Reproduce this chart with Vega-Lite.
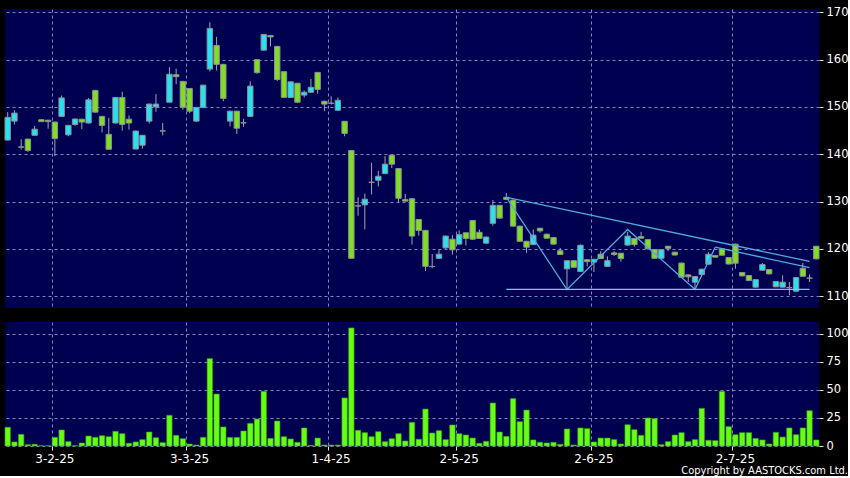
{
  "$schema": "https://vega.github.io/schema/vega-lite/v6.json",
  "background": "#000000",
  "padding": {"left": 4, "top": 6, "right": 0, "bottom": 0},
  "autosize": {"type": "pad"},
  "config": {
    "view": {"fill": "#000050", "stroke": null},
    "axis": {"labelFont": "DejaVu Sans", "labelColor": "#ffffff", "gridColor": "#8484c4", "gridDash": [3, 3], "gridWidth": 1, "gridOpacity": 1, "domain": false, "tickColor": "#e0e0e0", "title": null},
    "concat": {"spacing": 14}
  },
  "title": {"text": "Copyright by AASTOCKS.com Ltd.", "orient": "bottom", "anchor": "end", "color": "#ffffff", "font": "DejaVu Sans Condensed, DejaVu Sans", "fontSize": 11, "fontWeight": "normal", "offset": 1},
  "datasets": {
    "px": [
      {"d":"20-1-25","o":143.0,"h":148.9,"l":142.9,"c":147.8,"v":16.7},
      {"d":"21-1-25","o":147.0,"h":149.3,"l":146.3,"c":148.7,"v":3.6},
      {"d":"22-1-25","o":141.55,"h":143.2,"l":141.0,"c":141.5,"v":10.4},
      {"d":"23-1-25","o":143.2,"h":143.3,"l":140.5,"c":140.8,"v":1.2},
      {"d":"24-1-25","o":144.0,"h":146.0,"l":143.9,"c":145.3,"v":1.5},
      {"d":"27-1-25","o":147.3,"h":147.4,"l":146.8,"c":146.9,"v":0.3},
      {"d":"28-1-25","o":147.2,"h":147.3,"l":145.4,"c":146.9,"v":0.2},
      {"d":"3-2-25","o":146.8,"h":146.9,"l":139.6,"c":143.3,"v":7.7},
      {"d":"4-2-25","o":148.0,"h":152.4,"l":148.0,"c":151.9,"v":14.3},
      {"d":"5-2-25","o":144.1,"h":146.2,"l":143.8,"c":146.1,"v":3.9},
      {"d":"6-2-25","o":146.3,"h":147.5,"l":146.0,"c":147.45,"v":0.3},
      {"d":"7-2-25","o":147.4,"h":147.5,"l":145.3,"c":146.8,"v":2.7},
      {"d":"10-2-25","o":146.6,"h":151.9,"l":146.5,"c":151.5,"v":8.9},
      {"d":"11-2-25","o":153.5,"h":153.6,"l":148.8,"c":148.9,"v":7.7},
      {"d":"12-2-25","o":148.0,"h":148.1,"l":144.6,"c":146.1,"v":9.2},
      {"d":"13-2-25","o":144.2,"h":147.7,"l":141.0,"c":141.05,"v":8.3},
      {"d":"14-2-25","o":146.6,"h":152.1,"l":146.5,"c":152.0,"v":13.1},
      {"d":"17-2-25","o":152.0,"h":153.2,"l":145.0,"c":146.3,"v":11.0},
      {"d":"18-2-25","o":147.4,"h":148.2,"l":145.2,"c":146.6,"v":2.4},
      {"d":"19-2-25","o":141.1,"h":145.0,"l":141.0,"c":144.9,"v":3.6},
      {"d":"20-2-25","o":141.9,"h":144.1,"l":141.2,"c":144.0,"v":5.7},
      {"d":"21-2-25","o":147.0,"h":150.7,"l":146.5,"c":150.6,"v":12.5},
      {"d":"24-2-25","o":150.0,"h":152.7,"l":149.0,"c":150.6,"v":7.4},
      {"d":"25-2-25","o":144.95,"h":146.6,"l":144.0,"c":144.9,"v":3.0},
      {"d":"26-2-25","o":151.0,"h":158.4,"l":151.0,"c":156.9,"v":27.4},
      {"d":"27-2-25","o":156.8,"h":158.1,"l":154.8,"c":156.4,"v":9.5},
      {"d":"28-2-25","o":155.4,"h":155.5,"l":149.4,"c":149.9,"v":6.5},
      {"d":"3-3-25","o":153.9,"h":154.0,"l":148.7,"c":149.1,"v":1.8},
      {"d":"4-3-25","o":147.0,"h":150.0,"l":146.8,"c":149.9,"v":0.9},
      {"d":"5-3-25","o":149.9,"h":154.7,"l":149.8,"c":154.6,"v":7.7},
      {"d":"6-3-25","o":158.0,"h":167.9,"l":157.5,"c":166.6,"v":78.0},
      {"d":"7-3-25","o":163.0,"h":164.8,"l":157.7,"c":159.0,"v":46.4},
      {"d":"10-3-25","o":159.0,"h":159.1,"l":151.2,"c":151.8,"v":17.0},
      {"d":"11-3-25","o":147.0,"h":149.2,"l":145.9,"c":149.1,"v":7.7},
      {"d":"12-3-25","o":149.1,"h":149.2,"l":144.3,"c":145.5,"v":7.7},
      {"d":"13-3-25","o":146.65,"h":147.5,"l":145.8,"c":146.6,"v":13.4},
      {"d":"14-3-25","o":148.0,"h":155.4,"l":147.9,"c":154.4,"v":20.2},
      {"d":"17-3-25","o":160.0,"h":160.1,"l":157.0,"c":157.25,"v":24.1},
      {"d":"18-3-25","o":162.0,"h":165.4,"l":161.9,"c":165.3,"v":48.8},
      {"d":"19-3-25","o":165.1,"h":165.2,"l":162.8,"c":164.8,"v":6.8},
      {"d":"20-3-25","o":162.8,"h":162.9,"l":155.5,"c":155.8,"v":22.3},
      {"d":"21-3-25","o":157.45,"h":157.5,"l":151.9,"c":152.0,"v":8.3},
      {"d":"24-3-25","o":152.0,"h":155.4,"l":151.9,"c":155.3,"v":6.25},
      {"d":"25-3-25","o":155.0,"h":155.1,"l":150.9,"c":151.0,"v":3.3},
      {"d":"26-3-25","o":152.5,"h":153.5,"l":152.0,"c":153.1,"v":16.1},
      {"d":"27-3-25","o":153.1,"h":155.9,"l":153.0,"c":154.15,"v":0.6},
      {"d":"28-3-25","o":157.3,"h":157.4,"l":152.8,"c":153.7,"v":7.1},
      {"d":"31-3-25","o":151.2,"h":151.3,"l":149.1,"c":150.6,"v":0.9},
      {"d":"1-4-25","o":150.8,"h":152.25,"l":150.5,"c":150.75,"v":0.9},
      {"d":"2-4-25","o":149.3,"h":152.0,"l":149.2,"c":151.4,"v":0.9},
      {"d":"3-4-25","o":146.97,"h":147.0,"l":143.8,"c":144.4,"v":42.9},
      {"d":"7-4-25","o":140.8,"h":140.8,"l":118.0,"c":118.0,"v":105.4},
      {"d":"8-4-25","o":129.1,"h":130.9,"l":127.0,"c":129.05,"v":14.0},
      {"d":"9-4-25","o":129.3,"h":131.7,"l":124.1,"c":130.5,"v":11.9},
      {"d":"10-4-25","o":134.1,"h":138.2,"l":131.5,"c":134.05,"v":8.3},
      {"d":"11-4-25","o":134.5,"h":136.5,"l":133.2,"c":135.35,"v":12.8},
      {"d":"14-4-25","o":135.9,"h":139.6,"l":135.8,"c":137.9,"v":3.9},
      {"d":"15-4-25","o":139.8,"h":139.9,"l":137.1,"c":137.9,"v":6.5},
      {"d":"16-4-25","o":136.97,"h":137.0,"l":129.7,"c":130.7,"v":11.0},
      {"d":"17-4-25","o":130.4,"h":131.6,"l":130.0,"c":130.1,"v":4.5},
      {"d":"22-4-25","o":130.6,"h":130.7,"l":120.9,"c":122.7,"v":21.1},
      {"d":"23-4-25","o":126.2,"h":126.3,"l":122.8,"c":123.9,"v":6.0},
      {"d":"24-4-25","o":123.9,"h":124.0,"l":115.3,"c":116.3,"v":33.0},
      {"d":"25-4-25","o":116.3,"h":118.9,"l":115.9,"c":116.25,"v":11.6},
      {"d":"28-4-25","o":118.0,"h":119.85,"l":117.9,"c":118.87,"v":13.7},
      {"d":"29-4-25","o":120.2,"h":122.8,"l":120.0,"c":122.7,"v":5.7},
      {"d":"30-4-25","o":122.04,"h":122.9,"l":118.8,"c":119.8,"v":18.75},
      {"d":"2-5-25","o":121.0,"h":123.9,"l":120.9,"c":123.0,"v":11.0},
      {"d":"6-5-25","o":123.4,"h":123.5,"l":120.7,"c":122.2,"v":9.8},
      {"d":"7-5-25","o":126.0,"h":126.1,"l":121.9,"c":122.04,"v":7.1},
      {"d":"8-5-25","o":123.5,"h":124.1,"l":122.1,"c":122.2,"v":2.4},
      {"d":"9-5-25","o":121.2,"h":122.6,"l":121.1,"c":122.5,"v":4.2},
      {"d":"12-5-25","o":125.4,"h":130.3,"l":124.9,"c":129.2,"v":38.4},
      {"d":"13-5-25","o":129.2,"h":129.3,"l":126.4,"c":126.5,"v":12.5},
      {"d":"14-5-25","o":130.9,"h":131.8,"l":130.4,"c":130.45,"v":8.6},
      {"d":"15-5-25","o":130.3,"h":130.4,"l":124.7,"c":124.8,"v":42.3},
      {"d":"16-5-25","o":124.8,"h":124.9,"l":121.5,"c":121.6,"v":21.7},
      {"d":"19-5-25","o":121.6,"h":121.7,"l":119.15,"c":120.35,"v":32.1},
      {"d":"20-5-25","o":120.9,"h":124.08,"l":120.8,"c":122.9,"v":5.4},
      {"d":"21-5-25","o":124.36,"h":124.4,"l":123.4,"c":123.8,"v":3.3},
      {"d":"22-5-25","o":123.1,"h":123.2,"l":122.2,"c":122.25,"v":2.7},
      {"d":"23-5-25","o":122.4,"h":122.5,"l":120.9,"c":121.0,"v":3.3},
      {"d":"26-5-25","o":119.6,"h":120.2,"l":118.7,"c":118.8,"v":1.5},
      {"d":"27-5-25","o":115.77,"h":117.6,"l":111.4,"c":117.5,"v":15.2},
      {"d":"28-5-25","o":117.5,"h":117.6,"l":116.0,"c":116.1,"v":0.9},
      {"d":"29-5-25","o":115.2,"h":120.9,"l":115.1,"c":120.77,"v":16.1},
      {"d":"30-5-25","o":117.7,"h":117.8,"l":116.3,"c":117.3,"v":15.5},
      {"d":"2-6-25","o":117.2,"h":117.9,"l":115.1,"c":117.8,"v":3.6},
      {"d":"3-6-25","o":118.87,"h":119.5,"l":117.9,"c":117.95,"v":7.1},
      {"d":"4-6-25","o":116.3,"h":118.4,"l":116.2,"c":117.5,"v":7.1},
      {"d":"5-6-25","o":119.15,"h":119.5,"l":118.5,"c":118.8,"v":5.7},
      {"d":"6-6-25","o":119.08,"h":119.1,"l":117.3,"c":117.95,"v":1.8},
      {"d":"9-6-25","o":120.8,"h":123.6,"l":120.7,"c":122.7,"v":19.0},
      {"d":"10-6-25","o":122.2,"h":122.3,"l":120.5,"c":120.9,"v":14.6},
      {"d":"11-6-25","o":122.6,"h":123.6,"l":122.2,"c":122.25,"v":9.5},
      {"d":"12-6-25","o":121.96,"h":122.0,"l":119.9,"c":120.0,"v":25.0},
      {"d":"13-6-25","o":119.85,"h":119.9,"l":117.9,"c":118.0,"v":24.4},
      {"d":"16-6-25","o":118.0,"h":119.9,"l":117.9,"c":119.85,"v":1.2},
      {"d":"17-6-25","o":120.56,"h":120.6,"l":119.5,"c":120.1,"v":3.9},
      {"d":"18-6-25","o":119.3,"h":119.4,"l":118.6,"c":118.7,"v":9.8},
      {"d":"19-6-25","o":117.0,"h":117.1,"l":113.9,"c":114.0,"v":11.9},
      {"d":"20-6-25","o":114.5,"h":114.6,"l":113.0,"c":114.1,"v":3.9},
      {"d":"23-6-25","o":112.95,"h":114.2,"l":111.4,"c":114.15,"v":5.7},
      {"d":"24-6-25","o":114.57,"h":115.8,"l":114.5,"c":115.7,"v":33.6},
      {"d":"25-6-25","o":116.75,"h":119.35,"l":116.7,"c":118.87,"v":5.1},
      {"d":"26-6-25","o":118.6,"h":118.7,"l":118.2,"c":118.25,"v":4.8},
      {"d":"27-6-25","o":120.0,"h":120.1,"l":118.6,"c":118.66,"v":48.8},
      {"d":"30-6-25","o":118.16,"h":118.2,"l":116.7,"c":116.8,"v":17.3},
      {"d":"2-7-25","o":121.0,"h":121.1,"l":115.8,"c":116.97,"v":10.1},
      {"d":"3-7-25","o":114.99,"h":115.0,"l":114.2,"c":114.29,"v":11.9},
      {"d":"4-7-25","o":114.36,"h":114.4,"l":113.2,"c":113.3,"v":11.9},
      {"d":"7-7-25","o":111.9,"h":113.6,"l":111.8,"c":113.5,"v":6.8},
      {"d":"8-7-25","o":115.49,"h":117.0,"l":115.4,"c":116.68,"v":5.4},
      {"d":"9-7-25","o":115.63,"h":115.7,"l":114.6,"c":114.71,"v":1.8},
      {"d":"10-7-25","o":111.97,"h":113.2,"l":111.9,"c":113.1,"v":12.2},
      {"d":"11-7-25","o":111.9,"h":114.4,"l":111.8,"c":112.95,"v":8.0},
      {"d":"14-7-25","o":111.85,"h":113.0,"l":110.2,"c":111.8,"v":16.1},
      {"d":"15-7-25","o":111.05,"h":114.0,"l":111.0,"c":113.94,"v":10.1},
      {"d":"16-7-25","o":115.9,"h":117.0,"l":114.1,"c":114.2,"v":16.1},
      {"d":"17-7-25","o":113.85,"h":114.6,"l":113.0,"c":113.8,"v":31.5},
      {"d":"18-7-25","o":120.56,"h":120.6,"l":117.8,"c":117.88,"v":5.4}
    ],
    "tl": [
      {"g":"zigzag","d":"14-5-25","p":130.9},
      {"g":"zigzag","d":"27-5-25","p":111.4},
      {"g":"zigzag","d":"9-6-25","p":124.1},
      {"g":"zigzag","d":"23-6-25","p":111.4},
      {"g":"zigzag","d":"26-6-25","p":120.35},
      {"g":"resistance1","d":"14-5-25","p":130.9},
      {"g":"resistance1","d":"17-7-25","p":117.35},
      {"g":"resistance2","d":"26-6-25","p":120.35},
      {"g":"resistance2","d":"17-7-25","p":116.05},
      {"g":"support","d":"14-5-25","p":111.45},
      {"g":"support","d":"17-7-25","p":111.45}
    ]
  },
  "resolve": {"scale": {"x": "independent"}},
  "vconcat": [
    {
      "width": 814,
      "height": 299,
      "layer": [
        {
          "data": {"name": "px"},
          "mark": {"type": "rule", "color": "#a4a4ac", "strokeWidth": 1},
          "encoding": {
            "x": {"field": "d", "type": "ordinal",
              "scale": {"paddingInner": 0.2, "paddingOuter": 0, "domain": ["20-1-25","21-1-25","22-1-25","23-1-25","24-1-25","27-1-25","28-1-25","3-2-25","4-2-25","5-2-25","6-2-25","7-2-25","10-2-25","11-2-25","12-2-25","13-2-25","14-2-25","17-2-25","18-2-25","19-2-25","20-2-25","21-2-25","24-2-25","25-2-25","26-2-25","27-2-25","28-2-25","3-3-25","4-3-25","5-3-25","6-3-25","7-3-25","10-3-25","11-3-25","12-3-25","13-3-25","14-3-25","17-3-25","18-3-25","19-3-25","20-3-25","21-3-25","24-3-25","25-3-25","26-3-25","27-3-25","28-3-25","31-3-25","1-4-25","2-4-25","3-4-25","7-4-25","8-4-25","9-4-25","10-4-25","11-4-25","14-4-25","15-4-25","16-4-25","17-4-25","22-4-25","23-4-25","24-4-25","25-4-25","28-4-25","29-4-25","30-4-25","2-5-25","6-5-25","7-5-25","8-5-25","9-5-25","12-5-25","13-5-25","14-5-25","15-5-25","16-5-25","19-5-25","20-5-25","21-5-25","22-5-25","23-5-25","26-5-25","27-5-25","28-5-25","29-5-25","30-5-25","2-6-25","3-6-25","4-6-25","5-6-25","6-6-25","9-6-25","10-6-25","11-6-25","12-6-25","13-6-25","16-6-25","17-6-25","18-6-25","19-6-25","20-6-25","23-6-25","24-6-25","25-6-25","26-6-25","27-6-25","30-6-25","2-7-25","3-7-25","4-7-25","7-7-25","8-7-25","9-7-25","10-7-25","11-7-25","14-7-25","15-7-25","16-7-25","17-7-25","18-7-25"]},
              "axis": {"values": ["3-2-25","3-3-25","1-4-25","2-5-25","2-6-25","2-7-25"], "labels": false, "ticks": false, "domain": false, "grid": true, "bandPosition": 0, "title": null, "minExtent": 0, "maxExtent": 0}},
            "y": {"field": "l", "type": "quantitative",
              "scale": {"domain": [107.5, 170.7], "nice": false, "zero": false},
              "axis": {"orient": "right", "values": [110,115,120,125,130,135,140,145,150,155,160,165,170], "grid": true, "ticks": true, "tickSize": 4, "labelPadding": 3, "labelFontSize": 11.5, "title": null}},
            "y2": {"field": "h"}
          }
        },
        {
          "data": {"name": "px"},
          "mark": {"type": "bar", "stroke": "#8e8e98", "strokeWidth": 1},
          "encoding": {
            "x": {"field": "d", "type": "ordinal"},
            "y": {"field": "o", "type": "quantitative"},
            "y2": {"field": "c"},
            "fill": {"condition": {"test": "datum.c >= datum.o", "value": "#28e2f2"}, "value": "#7ee020"}
          }
        },
        {
          "data": {"name": "tl"},
          "mark": {"type": "line", "strokeWidth": 1.3},
          "encoding": {
            "x": {"field": "d", "type": "ordinal"},
            "y": {"field": "p", "type": "quantitative"},
            "detail": {"field": "g", "type": "nominal"},
            "color": {"field": "g", "type": "nominal", "legend": null,
              "scale": {"domain": ["zigzag","resistance1","resistance2","support"], "range": ["#4faae0","#4faae0","#4faae0","#7cc4ee"]}}
          }
        }
      ]
    },
    {
      "width": 814,
      "height": 124,
      "data": {"name": "px"},
      "mark": {"type": "bar", "fill": "#66ff14", "stroke": "#3c9e12", "strokeWidth": 0.6},
      "encoding": {
        "x": {"field": "d", "type": "ordinal", "sort": null,
          "scale": {"paddingInner": 0.2, "paddingOuter": 0},
          "axis": {"values": ["3-2-25","3-3-25","1-4-25","2-5-25","2-6-25","2-7-25"], "labelAngle": 0, "labelFontSize": 12, "labelPadding": 3, "grid": true, "ticks": true, "tickSize": 4, "bandPosition": 0, "domain": false, "title": null}},
        "y": {"field": "v", "type": "quantitative",
          "scale": {"domain": [0, 110.7], "nice": false},
          "axis": {"orient": "right", "values": [0,25,50,75,100], "grid": true, "ticks": true, "tickSize": 4, "labelPadding": 3, "labelFontSize": 11.5, "title": null}}
      }
    }
  ]
}
